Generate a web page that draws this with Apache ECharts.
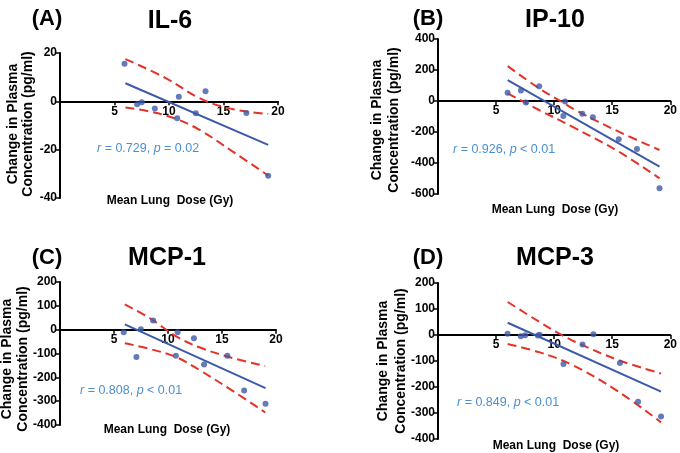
<!DOCTYPE html>
<html>
<head>
<meta charset="utf-8">
<script src="https://cdn.jsdelivr.net/npm/echarts@6/dist/echarts.min.js"></script>
<style>
  html, body { margin: 0; padding: 0; background: #fff; }
  #main { width: 680px; height: 453px; }
</style>
</head>
<body>
<div id="main"></div>
<script>
// --- data ---
// (A) IL-6
var doseA = [5.92, 7.08, 7.5, 8.7, 10.75, 10.9, 12.46, 13.35, 17.1, 19.1];
var il6 = [15.6, -1.2, -0.4, -3.0, -7.0, 1.9, -4.9, 4.2, -4.8, -30.8];
var fitA = [[6, 7.5], [19.1, -18.0]];
var upXA = [6, 9.74, 12.8, 14.9, 17.1, 19.1];
var upYA = [17.5, 9.5, 1.3, -2.2, -4.2, -5.2];
var loXA = [6, 8.2, 10.66, 12.8, 15.85, 19.1];
var loYA = [-2.6, -4.2, -7.3, -11.8, -20.8, -30.7];

// (B) IP-10
var doseB = [5.99, 7.14, 7.57, 8.71, 10.79, 10.94, 12.42, 13.33, 15.56, 17.13, 19.07];
var ip10 = [54, 67, -9, 95, -97, -4, -82, -105, -247, -310, -563];
var fitB = [[6, 135], [19.07, -424]];
var upXB = [6, 8.7, 10.4, 12.1, 15.56, 19.07];
var upYB = [225, 82, 6, -69, -198, -316];
var loXB = [6, 8.7, 11.56, 15.56, 19.07];
var loYB = [49, -58, -166, -327, -499];

// (C) MCP-1
var doseC = [5.9, 7.08, 7.48, 8.62, 10.73, 10.89, 12.4, 13.34, 15.5, 17.05, 19.03];
var mcp1 = [-11, -115, 2, 38, -109, -11, -36, -146, -109, -255, -311];
var fitC = [[6, 22], [19.03, -245]];
var upXC = [6, 8.32, 10.8, 12.9, 16.06, 19.0];
var upYC = [106, 48, -29, -74, -120, -152];
var loXC = [6, 8.32, 10.8, 12.9, 16.06, 19.0];
var loYC = [-57, -81, -116, -169, -259, -347];

// (D) MCP-3
var doseD = [5.99, 7.13, 7.5, 8.6, 8.75, 10.8, 12.44, 13.38, 15.66, 17.22, 19.2];
var mcp3 = [5, -5, -1, -2, 1, -112, -37, 3, -108, -257, -313];
var fitD = [[6, 47], [19.2, -218]];
var upXD = [6, 8.7, 10.4, 12.1, 15.5, 19.2];
var upYD = [127, 51, 6, -32, -96, -148];
var loXD = [6, 8.7, 11.55, 15.5, 19.2];
var loYD = [-35, -66, -115, -217, -336];

var FONT = '"Liberation Sans", Arial, Helvetica, sans-serif';
var DOT = '#3d5aa8';
var RED = '#e53228';
var TXT = '#4a8fd0';

function zip(xs, ys) {
  return xs.map(function (x, i) { return [x, ys[i]]; });
}

var panels = [
  { grid: { left: 60, top: 53, width: 218, height: 145 }, ymin: -40, ymax: 20, step: 20,
    x: doseA, y: il6, fit: fitA, up: zip(upXA, upYA), lo: zip(loXA, loYA) },
  { grid: { left: 438, top: 39, width: 234, height: 155 }, ymin: -600, ymax: 400, step: 200,
    x: doseB, y: ip10, fit: fitB, up: zip(upXB, upYB), lo: zip(loXB, loYB) },
  { grid: { left: 60, top: 282, width: 216, height: 143 }, ymin: -400, ymax: 200, step: 100,
    x: doseC, y: mcp1, fit: fitC, up: zip(upXC, upYC), lo: zip(loXC, loYC) },
  { grid: { left: 438, top: 283, width: 235, height: 156 }, ymin: -400, ymax: 200, step: 100,
    x: doseD, y: mcp3, fit: fitD, up: zip(upXD, upYD), lo: zip(loXD, loYD) }
];

var grids = [], xAxes = [], yAxes = [], series = [];
panels.forEach(function (p, i) {
  grids.push(p.grid);
  // x axis sits on y = 0, labels included
  var lift = p.grid.height * (-p.ymin) / (p.ymax - p.ymin);
  xAxes.push({
    type: 'value', gridIndex: i, min: 0, max: 20, interval: 5,
    position: 'bottom', offset: -lift,
    axisLine: { onZero: false, lineStyle: { color: '#000', width: 2 } },
    axisTick: { show: true, length: 4, lineStyle: { color: '#000', width: 1.5 } },
    axisLabel: { showMinLabel: false, color: '#000', fontFamily: FONT, fontWeight: 'bold', fontSize: 12, margin: 4 },
    splitLine: { show: false }
  });
  yAxes.push({
    type: 'value', gridIndex: i, min: p.ymin, max: p.ymax, interval: p.step,
    axisLine: { show: true, onZero: false, lineStyle: { color: '#000', width: 2 } },
    axisTick: { show: true, length: 4, lineStyle: { color: '#000', width: 1.5 } },
    axisLabel: { color: '#000', fontFamily: FONT, fontWeight: 'bold', fontSize: 12, margin: 3 },
    splitLine: { show: false }
  });
  var xy = p.x.map(function (v, k) { return [v, p.y[k]]; });
  series.push({
    type: 'line', xAxisIndex: i, yAxisIndex: i, data: p.up, smooth: 0.4,
    showSymbol: false, lineStyle: { color: RED, width: 2, type: [9, 5] }, z: 2
  });
  series.push({
    type: 'line', xAxisIndex: i, yAxisIndex: i, data: p.lo, smooth: 0.4,
    showSymbol: false, lineStyle: { color: RED, width: 2, type: [9, 5] }, z: 2
  });
  series.push({
    type: 'line', xAxisIndex: i, yAxisIndex: i, data: p.fit,
    showSymbol: false, lineStyle: { color: DOT, width: 2 }, z: 3
  });
  series.push({
    type: 'scatter', xAxisIndex: i, yAxisIndex: i, data: xy,
    symbolSize: 6, itemStyle: { color: DOT }, z: 4
  });
});

// text pieces: panel letter, title, axis titles, stats
var letters = [['(A)', 47, 19], ['(B)', 428, 19], ['(C)', 47, 258], ['(D)', 428, 258]];
var titles = [['IL-6', 170, 21], ['IP-10', 555, 20], ['MCP-1', 167, 258], ['MCP-3', 555, 258]];
var xTitles = [[170, 201], [555, 210], [167, 430], [556, 446]];
var yTitles = [[13, 28, 124], [377, 394, 120], [7, 23, 359], [383, 401, 361]];
var stats = [['0.729', '= 0.02', 97, 149], ['0.926', '< 0.01', 453, 150],
             ['0.808', '< 0.01', 80, 391], ['0.849', '< 0.01', 457, 403]];

var graphic = [];
letters.forEach(function (t) {
  graphic.push({ type: 'text', x: t[1], y: t[2], style: { text: t[0], font: 'bold 22px ' + FONT,
    fill: '#000', align: 'center', verticalAlign: 'middle' } });
});
titles.forEach(function (t) {
  graphic.push({ type: 'text', x: t[1], y: t[2], style: { text: t[0], font: 'bold 25px ' + FONT,
    fill: '#000', align: 'center', verticalAlign: 'middle' } });
});
xTitles.forEach(function (t) {
  graphic.push({ type: 'text', x: t[0], y: t[1], style: { text: 'Mean Lung  Dose (Gy)', font: 'bold 12px ' + FONT,
    fill: '#000', align: 'center', verticalAlign: 'middle' } });
});
yTitles.forEach(function (t) {
  graphic.push({ type: 'text', x: t[0], y: t[2], rotation: Math.PI / 2, style: { text: 'Change in Plasma',
    font: 'bold 14px ' + FONT, fill: '#000', align: 'center', verticalAlign: 'middle' } });
  graphic.push({ type: 'text', x: t[1], y: t[2], rotation: Math.PI / 2, style: { text: 'Concentration (pg/ml)',
    font: 'bold 14px ' + FONT, fill: '#000', align: 'center', verticalAlign: 'middle' } });
});
stats.forEach(function (t) {
  graphic.push({ type: 'text', x: t[2], y: t[3], style: {
    text: '{i|r}{n| = ' + t[0] + ', }{i|p}{n| ' + t[1] + '}',
    verticalAlign: 'middle', align: 'left',
    rich: {
      i: { fontStyle: 'italic', fontSize: 12.5, fontFamily: FONT, fill: TXT },
      n: { fontSize: 12.5, fontFamily: FONT, fill: TXT }
    } } });
});

var chart = echarts.init(document.getElementById('main'));
chart.setOption({
  animation: false,
  backgroundColor: '#fff',
  grid: grids,
  xAxis: xAxes,
  yAxis: yAxes,
  series: series,
  graphic: graphic
});
</script>
</body>
</html>
